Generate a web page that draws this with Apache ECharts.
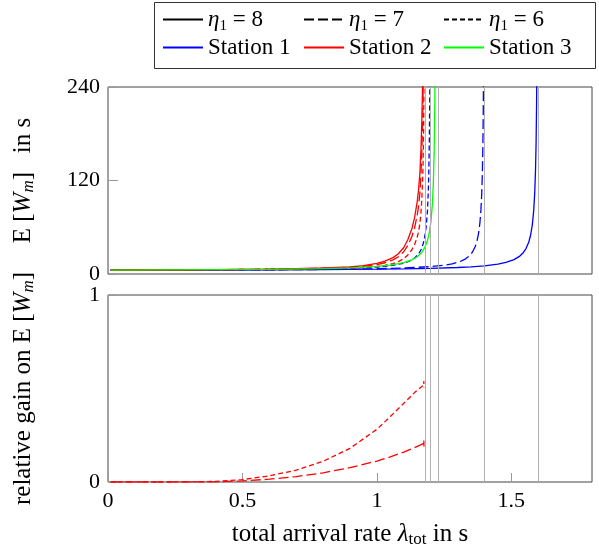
<!DOCTYPE html>
<html>
<head>
<meta charset="utf-8">
<script src="https://cdn.jsdelivr.net/npm/echarts@6/dist/echarts.min.js"></script>
<style>
  html, body { margin: 0; padding: 0; background: #fff; }
  #chart { width: 599px; height: 554px; }
</style>
</head>
<body>
<div id="chart"></div>
<script>
// ---- data: total arrival rate λ_tot and mean waiting time E[W_m] in s ----
// Station 1
const lamSt1Eta8 = [0.01, 0.2, 0.4, 0.6, 0.8, 1.0, 1.1, 1.2, 1.3, 1.35, 1.4, 1.45, 1.48, 1.51, 1.53, 1.545, 1.555, 1.565, 1.572, 1.578, 1.583, 1.587, 1.59, 1.592, 1.594, 1.5955, 1.597];
const wSt1Eta8   = [4.82, 4.93, 5.08, 5.3, 5.63, 6.17, 6.6, 7.25, 8.33, 9.2, 10.5, 12.67, 14.83, 18.44, 22.57, 27.64, 32.9, 41.1, 50.4, 63.1, 80.5, 104, 134, 166.5, 220.7, 292.9, 437];
const lamSt1Eta7 = [0.01, 0.2, 0.4, 0.6, 0.8, 0.9, 1.0, 1.1, 1.2, 1.25, 1.28, 1.31, 1.33, 1.345, 1.355, 1.365, 1.372, 1.378, 1.383, 1.387, 1.39, 1.392, 1.394, 1.3955, 1.397, 1.398];
const wSt1Eta7   = [4.79, 4.92, 5.1, 5.37, 5.83, 6.2, 6.74, 7.65, 9.47, 11.28, 13.09, 16.09, 19.49, 23.64, 27.91, 34.56, 41.93, 51.83, 65.1, 82.6, 104, 126.2, 161.1, 204, 279, 370.7];
const lamSt1Eta6 = [0.01, 0.2, 0.4, 0.6, 0.8, 0.9, 1.0, 1.05, 1.1, 1.12, 1.14, 1.155, 1.165, 1.173, 1.179, 1.184, 1.188, 1.191, 1.193, 1.195, 1.1965, 1.198];
const wSt1Eta6   = [4.84, 5.0, 5.25, 5.66, 6.49, 7.32, 8.98, 10.62, 13.9, 16.35, 20.39, 25.74, 31.78, 39.71, 49.45, 62.8, 80.9, 104, 129, 170.7, 226.2, 337];
// Station 2
const lamSt2     = [0.01, 0.2, 0.4, 0.6, 0.7, 0.8, 0.9, 0.95, 1.0, 1.03, 1.06, 1.08, 1.1, 1.115, 1.13, 1.14, 1.15, 1.155, 1.16, 1.164, 1.167, 1.17, 1.172, 1.1735, 1.1745, 1.1755];
const wSt2Eta8   = [5.0, 5.2, 5.6, 6.3, 6.9, 7.9, 9.2, 10.8, 13.5, 16.5, 21, 26, 34, 44, 58, 72, 93, 108, 130, 160, 195, 245, 300, 370, 450, 580];
const wSt2Eta7   = [5.0, 5.2, 5.59, 6.21, 6.7, 7.51, 8.49, 9.78, 11.99, 14.44, 18.1, 22.18, 28.56, 36.56, 47.68, 58.75, 75.33, 87.16, 104.5, 128.3, 156, 195.3, 238.5, 293.8, 356.9, 459.9];
const wSt2Eta6   = [5.0, 5.2, 5.58, 6.09, 6.47, 7.02, 7.54, 8.33, 9.69, 11.19, 13.36, 15.81, 19.69, 24.51, 31.09, 37.58, 47.43, 54.43, 64.74, 78.88, 95.55, 119.07, 144.9, 178.3, 216.5, 278.4];
// Station 3
const lamSt3     = [0.01, 0.2, 0.4, 0.6, 0.8, 0.9, 1.0, 1.05, 1.1, 1.13, 1.15, 1.165, 1.177, 1.187, 1.195, 1.201, 1.206, 1.21, 1.213, 1.2155, 1.2175];
const wSt3       = [4.97, 5.17, 5.49, 5.99, 6.98, 7.94, 9.77, 11.48, 14.6, 18.11, 22.08, 26.91, 33.11, 41.58, 52.96, 67.3, 87.8, 116.9, 156.9, 220.6, 328.9];

// relative gain on E[W_m] at station 2
const lamGain    = [0.01, 0.2, 0.3, 0.4, 0.5, 0.6, 0.7, 0.8, 0.9, 1.0, 1.05, 1.1, 1.14, 1.165, 1.174, 1.1745, 1.175];
const gainEta7   = [0, 0, 0, 0.001, 0.006, 0.015, 0.029, 0.049, 0.077, 0.112, 0.134, 0.16, 0.184, 0.2, 0.207, 0.225, 0.19];
const gainEta6   = [0, 0, 0.0005, 0.003, 0.013, 0.033, 0.063, 0.111, 0.18, 0.282, 0.35, 0.421, 0.478, 0.508, 0.519, 0.54, 0.505];

// stability limits of the stations (vertical guide lines)
const stabilityLimits = [1.176, 1.2, 1.225, 1.4, 1.6];

// axis ticks
const xTicks = { min: 0, max: 1.8, interval: 0.5 };
const yTicksTop = { min: 0, max: 240, interval: 120 };
const yTicksBottom = { min: 0, max: 1, interval: 1 };

// ---- styling ----
const FONT = 'Liberation Serif';
const FS_TICK = 22, FS_NAME = 25, FS_LEG = 23;
const BLUE = '#0000ff', RED = '#ff0000', GREEN = '#00ff00';
const DASH = { 8: 'solid', 7: [10, 4], 6: [5, 3] };

function richSet(fs, sfs) {
  return {
    t:    { fontFamily: FONT, fontSize: fs, lineHeight: 28, color: '#000' },
    it:   { fontFamily: FONT, fontSize: fs, lineHeight: 28, color: '#000', fontStyle: 'italic' },
    sub:  { fontFamily: FONT, fontSize: sfs, lineHeight: 12, color: '#000', verticalAlign: 'bottom' },
    subi: { fontFamily: FONT, fontSize: sfs, lineHeight: 12, color: '#000', fontStyle: 'italic', verticalAlign: 'bottom' }
  };
}
const richName = richSet(FS_NAME, 17);
const richLeg = richSet(FS_LEG, 15);

function pts(xs, ys) { return xs.map((x, i) => [x, ys[i]]); }

function curve(xs, ys, color, eta, grid) {
  return {
    type: 'line', xAxisIndex: grid, yAxisIndex: grid,
    data: pts(xs, ys), symbol: 'none', clip: true, z: 3,
    lineStyle: { color: color, width: 1.3, type: DASH[eta] },
    silent: true
  };
}

function guides(grid) {
  return {
    type: 'line', xAxisIndex: grid, yAxisIndex: grid, data: [], z: 2, silent: true,
    markLine: {
      silent: true, symbol: ['none', 'none'], label: { show: false },
      lineStyle: { color: '#b0b0b0', type: 'solid', width: 1 },
      data: stabilityLimits.map(v => ({ xAxis: v }))
    }
  };
}

// legend entries (name, line colour, dash, position)
const legendNames = ['η1 = 8', 'η1 = 7', 'η1 = 6', 'Station 1', 'Station 2', 'Station 3'];
const legendColors = ['#000', '#000', '#000', BLUE, RED, GREEN];
const legendDash = [DASH[8], DASH[7], DASH[6], 'solid', 'solid', 'solid'];
const legendLeft = [162, 303, 443, 162, 303, 443];
const legendTop = [8, 8, 8, 36, 36, 36];

function legendLabel(name) {
  const m = name.match(/^η1 = (\d)$/);
  if (m) return '{it|η}{sub|1}{t| = ' + m[1] + '}';
  return '{t|' + name + '}';
}

const legendSeries = legendNames.map((n, i) => ({
  name: n, type: 'line', xAxisIndex: 0, yAxisIndex: 0, data: [], symbol: 'none',
  lineStyle: { color: legendColors[i], width: 1.5, type: legendDash[i] },
  itemStyle: { color: legendColors[i] }
}));

const legends = legendNames.map((n, i) => ({
  data: [n], left: legendLeft[i], top: legendTop[i], padding: 0,
  itemWidth: 40, itemHeight: 14, selectedMode: false,
  itemStyle: { opacity: 0 },
  formatter: legendLabel,
  textStyle: { rich: richLeg }
}));

const axisLabelStyle = { fontFamily: FONT, fontSize: FS_TICK, color: '#000' };

const option = {
  animation: false,
  backgroundColor: '#fff',
  legend: legends,
  graphic: [{
    type: 'rect', left: 152, top: 0,
    shape: { x: 0, y: 0, width: 441, height: 66 },
    style: { fill: 'none', stroke: '#333', lineWidth: 1 }, silent: true
  }],
  grid: [
    { left: 108, right: 7, top: 87, height: 187, show: true, borderColor: '#444', borderWidth: 1, backgroundColor: 'transparent' },
    { left: 108, right: 7, top: 295, height: 187, show: true, borderColor: '#444', borderWidth: 1, backgroundColor: 'transparent' }
  ],
  xAxis: [
    {
      gridIndex: 0, type: 'value', min: xTicks.min, max: xTicks.max, interval: xTicks.interval,
      axisLine: { show: false }, splitLine: { show: false },
      axisTick: { show: false }, axisLabel: { show: false }
    },
    {
      gridIndex: 1, type: 'value', min: xTicks.min, max: xTicks.max, interval: xTicks.interval,
      axisLine: { show: false }, splitLine: { show: false },
      axisTick: { show: true, inside: true, length: 9, lineStyle: { color: '#999' } },
      axisLabel: Object.assign({ margin: 8, showMaxLabel: false }, axisLabelStyle),
      name: '{t|total arrival rate }{it|λ}{sub|tot}{t| in s}',
      nameLocation: 'middle', nameGap: 38,
      nameTextStyle: { rich: richName }
    }
  ],
  yAxis: [
    {
      gridIndex: 0, type: 'value', min: yTicksTop.min, max: yTicksTop.max, interval: yTicksTop.interval,
      axisLine: { show: false }, splitLine: { show: false },
      axisTick: { show: true, inside: true, length: 10, lineStyle: { color: '#999' } },
      axisLabel: Object.assign({ margin: 8 }, axisLabelStyle),
      name: '{t|E [}{it|W}{subi|m}{t|]   in s}',
      nameLocation: 'middle', nameGap: 71, nameRotate: 90,
      nameTextStyle: { rich: richName }
    },
    {
      gridIndex: 1, type: 'value', min: yTicksBottom.min, max: yTicksBottom.max, interval: yTicksBottom.interval,
      axisLine: { show: false }, splitLine: { show: false },
      axisTick: { show: true, inside: true, length: 10, lineStyle: { color: '#999' } },
      axisLabel: Object.assign({ margin: 8 }, axisLabelStyle),
      name: '{t|relative gain on E [}{it|W}{subi|m}{t|]}',
      nameLocation: 'middle', nameGap: 71, nameRotate: 90,
      nameTextStyle: { rich: richName }
    }
  ],
  series: [
    guides(0), guides(1),
    curve(lamSt1Eta8, wSt1Eta8, BLUE, 8, 0),
    curve(lamSt1Eta7, wSt1Eta7, BLUE, 7, 0),
    curve(lamSt1Eta6, wSt1Eta6, BLUE, 6, 0),
    curve(lamSt2, wSt2Eta8, RED, 8, 0),
    curve(lamSt2, wSt2Eta7, RED, 7, 0),
    curve(lamSt2, wSt2Eta6, RED, 6, 0),
    curve(lamSt3, wSt3, GREEN, 8, 0),
    curve(lamGain, gainEta7, RED, 7, 1),
    curve(lamGain, gainEta6, RED, 6, 1)
  ].concat(legendSeries)
};

const chart = echarts.init(document.getElementById('chart'), null, { renderer: 'canvas' });
chart.setOption(option);
</script>
</body>
</html>
